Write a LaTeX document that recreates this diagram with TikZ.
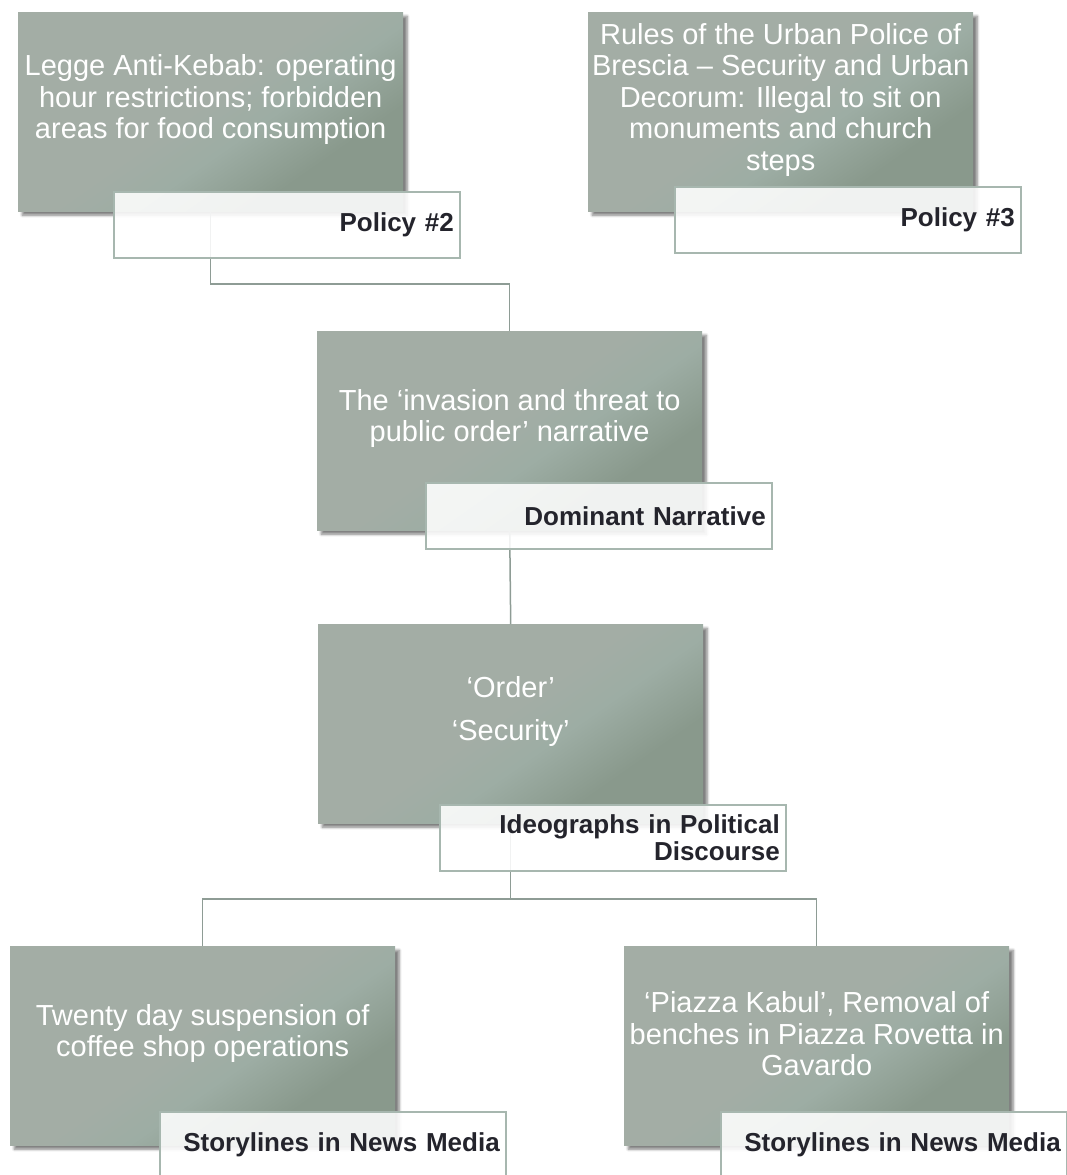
\documentclass[tikz,border=0pt]{standalone}
\usepackage{fontspec}
\setmainfont{Liberation Sans}
\usetikzlibrary{shadows.blur}
\definecolor{boxlight}{HTML}{A3ADA5}
\definecolor{boxmid}{HTML}{9DADA4}
\definecolor{boxdark}{HTML}{89998C}
\definecolor{linec}{HTML}{8E9C95}
\definecolor{labline}{HTML}{A7B7AF}
\definecolor{labtext}{HTML}{24242C}
\pgfdeclarehorizontalshading{boxshade}{100bp}{color(0bp)=(boxlight); color(48bp)=(boxlight); color(57bp)=(boxmid); color(69bp)=(boxdark); color(100bp)=(boxdark)}
\tikzset{
  mainbox/.style={anchor=north west, minimum width=385pt, minimum height=199pt, inner sep=0pt,
    shading=boxshade, shading angle=-55,
    blur shadow={shadow xshift=4pt, shadow yshift=-4pt, shadow blur radius=2.5pt, shadow blur steps=6, shadow opacity=50, shadow blur extra rounding=0pt}},
  maintext/.style={text=white, align=center, font=\fontsize{29}{31.5}\selectfont, inner sep=0pt},
  labbox/.style={anchor=north west, draw=labline, line width=1.5pt, fill=white, fill opacity=0.88,
    text opacity=1, text=labtext, text width=334pt, align=right, inner xsep=6pt, inner ysep=0pt,
    minimum height=66pt, font=\fontsize{26}{27}\selectfont\bfseries},
  conn/.style={draw=linec, line width=1.5pt},
}
\begin{document}
\begin{tikzpicture}[x=1pt, y=-1pt]
\useasboundingbox (0,0) rectangle (1067,1175);
% junction coordinates
\coordinate (j1) at (0,284);
\coordinate (j2) at (0,899);
% boxes
\node[mainbox] (b1) at (18,12) {};
\node[mainbox] (b2) at (588,12) {};
\node[mainbox] (b3) at (317,331) {};
\node[mainbox] (b4) at (318,624) {};
\node[mainbox] (b5) at (10,946) {};
\node[mainbox] (b6) at (624,946) {};
% connectors
\draw[conn] (b1.south) -- (b1.south |- j1) -| (b3.north);
\draw[conn] (b3.south) -- (b4.north);
\draw[conn] (b4.south) -- (b4.south |- j2) -| (b5.north);
\draw[conn] (b4.south |- j2) -| (b6.north);
% texts
\node[maintext] (t1) at ([yshift=12pt]b1.center) {Legge Anti-Kebab: operating\\hour restrictions; forbidden\\areas for food consumption};
\node[maintext] (t2) at ([yshift=12pt]b2.center) {Rules of the Urban Police of\\Brescia -- Security and Urban\\Decorum: Illegal to sit on\\monuments and church\\steps};
\node[maintext] (t3) at ([yshift=12pt]b3.center) {The ‘invasion and threat to\\public order’ narrative};
\node[maintext] (t4) at ([yshift=12pt]b4.center) {‘Order’\\[12pt]‘Security’};
\node[maintext] (t5) at ([yshift=12pt]b5.center) {Twenty day suspension of\\coffee shop operations};
\node[maintext] (t6) at ([yshift=12pt]b6.center) {‘Piazza Kabul’, Removal of\\benches in Piazza Rovetta in\\Gavardo};
% labels
\node[labbox] (l1) at (113,191) {Policy \#2};
\node[labbox] (l2) at (674,186) {Policy \#3};
\node[labbox] (l3) at (425,482) {Dominant Narrative};
\node[labbox] (l4) at (439,804) {Ideographs in Political\\Discourse};
\node[labbox] (l5) at (159,1111) {Storylines in News Media};
\node[labbox] (l6) at (720,1111) {Storylines in News Media};
\end{tikzpicture}
\end{document}
